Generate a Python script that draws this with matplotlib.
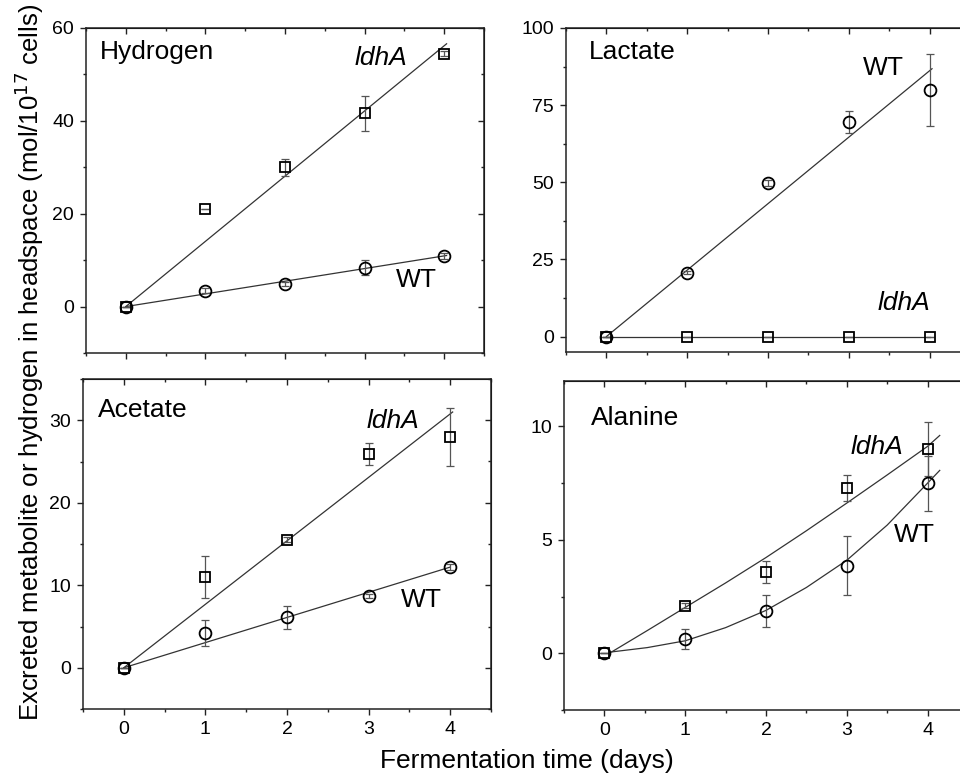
import numpy as np
import matplotlib.pyplot as plt
from matplotlib.ticker import MultipleLocator

plt.rcParams['font.family'] = ['Liberation Sans', 'DejaVu Sans']

##### data
days = [0, 1, 2, 3, 4]

# hydrogen
h2_ldhA = [0, 21.1, 30.0, 41.6, 54.5]
h2_ldhA_err = [0, 0, 1.8, 3.7, 0.5]
h2_wt = [0, 3.4, 4.8, 8.4, 10.9]
h2_wt_err = [0, 0.5, 0.4, 1.6, 0.6]
h2_fit_x = [0, 4.03]
h2_ldhA_fit = [0, 56.6]
h2_wt_fit = [0, 11.0]

# lactate
lac_wt = [0, 20.7, 49.7, 69.5, 79.9]
lac_wt_err = [0, 0.5, 1.0, 3.5, 11.8]
lac_ldhA = [0, 0, 0, 0, 0]
lac_ldhA_err = [0, 0, 0, 0, 0]
lac_wt_fit_x = [0, 4.03]
lac_wt_fit = [0, 86.8]
lac_ldhA_fit_x = [0, 4.0]
lac_ldhA_fit = [0, 0]

# acetate
ace_ldhA = [0, 11.0, 15.5, 25.9, 28.0]
ace_ldhA_err = [0, 2.5, 0.3, 1.3, 3.5]
ace_wt = [0, 4.2, 6.1, 8.7, 12.2]
ace_wt_err = [0, 1.6, 1.4, 0.3, 0.4]
ace_ldhA_fit_x = [0, 4.03]
ace_ldhA_fit = [0, 31.0]
ace_wt_fit_x = [0, 4.0]
ace_wt_fit = [0, 12.2]

# alanine
ala_ldhA = [0, 2.1, 3.58, 7.28, 9.0]
ala_ldhA_err = [0, 0.1, 0.5, 0.58, 1.2]
ala_wt = [0, 0.63, 1.85, 3.86, 7.49]
ala_wt_err = [0, 0.43, 0.7, 1.3, 1.2]
ala_fit_x = [0.09, 0.53, 1.0, 1.5, 2.0, 2.5, 3.0, 3.5, 4.0, 4.15]
ala_ldhA_fit = [0.06, 1.0, 2.02, 3.1, 4.22, 5.4, 6.62, 7.86, 9.12, 9.6]
ala_wt_fit = [0.06, 0.25, 0.55, 1.13, 1.89, 2.9, 4.1, 5.65, 7.5, 8.06]


##### plotting
fig = plt.figure(figsize=[9.6, 7.74], dpi=100)

def px_axes(left, top, right, bottom):
    return fig.add_axes([left/960, 1-bottom/774, (right-left)/960, (bottom-top)/774])

def style(ax, ylim, ymaj):
    ax.set_xlim(-0.5, 4.5)
    ax.set_ylim(*ylim)
    ax.xaxis.set_major_locator(MultipleLocator(1))
    ax.xaxis.set_minor_locator(MultipleLocator(0.5))
    ax.yaxis.set_major_locator(MultipleLocator(ymaj))
    ax.yaxis.set_minor_locator(MultipleLocator(ymaj/2))
    ax.tick_params(which='both', direction='out', top=False, right=False,
                   labelsize=14, color='#222222', width=1.0, pad=4)
    ax.tick_params(which='major', length=4.5)
    ax.tick_params(which='minor', length=2.5)
    for s in ax.spines.values():
        s.set_linewidth(1.1)
        s.set_color('#222222')
    # mirrored ticks, pointing in
    sx = ax.secondary_xaxis('top')
    sx.xaxis.set_major_locator(MultipleLocator(1))
    sx.xaxis.set_minor_locator(MultipleLocator(0.5))
    sx.tick_params(which='both', direction='in', labeltop=False, color='#222222', width=1.0)
    sx.tick_params(which='major', length=4.5)
    sx.tick_params(which='minor', length=2.5)
    sy = ax.secondary_yaxis('right')
    sy.yaxis.set_major_locator(MultipleLocator(ymaj))
    sy.yaxis.set_minor_locator(MultipleLocator(ymaj/2))
    sy.tick_params(which='both', direction='in', labelright=False, color='#222222', width=1.0)
    sy.tick_params(which='major', length=4.5)
    sy.tick_params(which='minor', length=2.5)

def series(ax, y, err, marker, ms):
    ax.errorbar(days, y, yerr=err, fmt='none', ecolor='#555555', elinewidth=0.9,
                capsize=3, capthick=0.9, zorder=2)
    ax.plot(days, y, linestyle='none', marker=marker, ms=ms, mfc='none',
            mec='black', mew=1.3, zorder=3)

def fit(ax, x, y):
    ax.plot(x, y, '-', color='#333333', lw=0.9, zorder=2)

lbl = dict(fontsize=19, va='center', ha='left')
tag = dict(fontsize=19, va='center', ha='left')

# Hydrogen
ax1 = px_axes(86, 28, 484, 353)
style(ax1, (-10, 60), 20)
fit(ax1, h2_fit_x, h2_ldhA_fit)
fit(ax1, h2_fit_x, h2_wt_fit)
series(ax1, h2_ldhA, h2_ldhA_err, 's', 7.5)
series(ax1, h2_wt, h2_wt_err, 'o', 8.5)
ax1.tick_params(labelbottom=False)
ax1.text(0.035, 0.926, 'Hydrogen', transform=ax1.transAxes, **lbl)
ax1.text(2.88, 53.5, 'ldhA', style='italic', **tag)
ax1.text(3.39, 5.8, 'WT', **tag)

# Lactate
ax2 = px_axes(566, 28, 970, 352)
style(ax2, (-5, 100), 25)
fit(ax2, lac_wt_fit_x, lac_wt_fit)
fit(ax2, lac_ldhA_fit_x, lac_ldhA_fit)
series(ax2, lac_wt, lac_wt_err, 'o', 8.5)
series(ax2, lac_ldhA, lac_ldhA_err, 's', 7.5)
ax2.tick_params(labelbottom=False)
ax2.text(0.057, 0.926, 'Lactate', transform=ax2.transAxes, **lbl)
ax2.text(3.18, 87, 'WT', **tag)
ax2.text(3.35, 11, 'ldhA', style='italic', **tag)

# Acetate
ax3 = px_axes(83, 379, 491, 709)
style(ax3, (-5, 35), 10)
fit(ax3, ace_ldhA_fit_x, ace_ldhA_fit)
fit(ax3, ace_wt_fit_x, ace_wt_fit)
series(ax3, ace_ldhA, ace_ldhA_err, 's', 7.5)
series(ax3, ace_wt, ace_wt_err, 'o', 8.5)
ax3.text(0.037, 0.906, 'Acetate', transform=ax3.transAxes, **lbl)
ax3.text(2.97, 29.9, 'ldhA', style='italic', **tag)
ax3.text(3.40, 8.2, 'WT', **tag)

# Alanine
ax4 = px_axes(564, 381, 968, 710)
style(ax4, (-2.5, 12), 5)
fit(ax4, ala_fit_x, ala_ldhA_fit)
fit(ax4, ala_fit_x, ala_wt_fit)
series(ax4, ala_ldhA, ala_ldhA_err, 's', 7.5)
series(ax4, ala_wt, ala_wt_err, 'o', 8.5)
ax4.text(0.066, 0.888, 'Alanine', transform=ax4.transAxes, **lbl)
ax4.text(3.05, 9.07, 'ldhA', style='italic', **tag)
ax4.text(3.58, 5.2, 'WT', **tag)

fig.text(0.549, 6/774, 'Fermentation time (days)', fontsize=19, ha='center', va='baseline')
fig.text(0.030, 0.532, 'Excreted metabolite or hydrogen in headspace (mol/10$^{17}$ cells)',
         fontsize=18.5, rotation=90, ha='center', va='center')

plt.savefig('out.png', dpi=100)
